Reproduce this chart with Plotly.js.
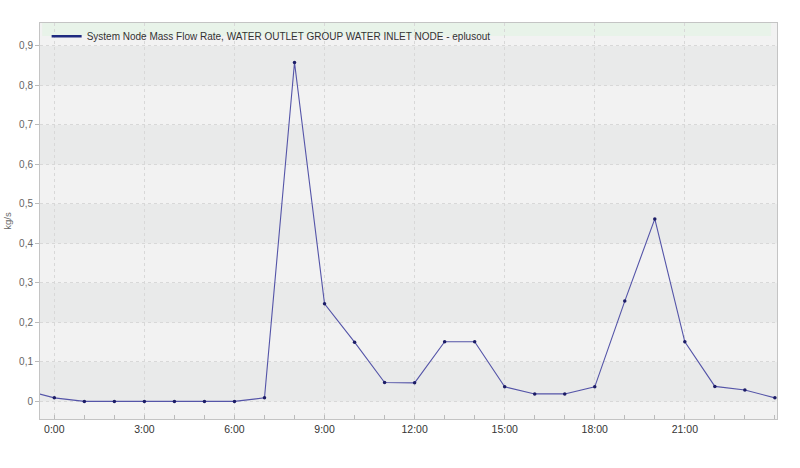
<!DOCTYPE html>
<html>
<head>
<meta charset="utf-8">
<script src="https://cdn.plot.ly/plotly-3.0.1.min.js"></script>
<style>
  html, body { margin: 0; padding: 0; background: #ffffff; }
  #chart { width: 800px; height: 468px; }
</style>
</head>
<body>
<div id="chart"></div>
<script>
// Hours of the day (the -1 point is the previous day's last value, clipped by the axis)
const hours = [-1, 0, 1, 2, 3, 4, 5, 6, 7, 8, 9, 10, 11, 12, 13, 14, 15, 16, 17, 18, 19, 20, 21, 22, 23, 24];
// System Node Mass Flow Rate, kg/s
const massFlow = [0.029, 0.009, 0, 0, 0, 0, 0, 0, 0.009, 0.858, 0.247, 0.150, 0.048, 0.047, 0.151, 0.151,
                  0.037, 0.019, 0.019, 0.037, 0.254, 0.462, 0.151, 0.038, 0.029, 0.009];
const seriesName = 'System Node Mass Flow Rate, WATER OUTLET GROUP WATER INLET NODE - eplusout';
const xTickVals = [0, 3, 6, 9, 12, 15, 18, 21];
const xTickText = ['0:00', '3:00', '6:00', '9:00', '12:00', '15:00', '18:00', '21:00'];
const yTickVals = [0, 0.1, 0.2, 0.3, 0.4, 0.5, 0.6, 0.7, 0.8, 0.9];
const yTickText = ['0', '0,1', '0,2', '0,3', '0,4', '0,5', '0,6', '0,7', '0,8', '0,9'];
const yTitle = 'kg/s';

const yMin = -0.0445, yMax = 0.958;

// alternating background bands between y gridlines
const shapes = [];
for (let i = 0; i < yTickVals.length - 1; i += 2) {
  shapes.push({type: 'rect', xref: 'paper', yref: 'y', x0: 0, x1: 1,
               y0: yTickVals[i], y1: yTickVals[i + 1],
               fillcolor: '#e9eaea', line: {width: 0}, layer: 'below'});
}
// legend strip at top of plot
shapes.push({type: 'rect', xref: 'paper', yref: 'paper', x0: 0.003, x1: 0.992, y0: 0.967, y1: 1,
             fillcolor: '#e8f3e9', line: {width: 0}, layer: 'below'});

const traces = [
  {x: hours, y: massFlow, type: 'scatter', mode: 'lines+markers', showlegend: false,
   line: {color: '#5454a8', width: 1.1},
   marker: {color: '#1c1c66', size: 3.5}},
  {x: [null], y: [null], type: 'scatter', mode: 'lines', name: seriesName,
   line: {color: '#1f2a80', width: 2.5}}
];

const layout = {
  width: 800, height: 468,
  margin: {l: 40, r: 23, t: 23, b: 49, pad: 0},
  paper_bgcolor: '#ffffff',
  plot_bgcolor: '#f2f2f2',
  separators: ', ',
  font: {family: 'Liberation Sans, Arial, sans-serif', size: 10, color: '#555'},
  showlegend: true,
  legend: {x: 0.009, y: 1.003, xanchor: 'left', yanchor: 'top', bgcolor: 'rgba(0,0,0,0)',
           font: {size: 10, color: '#333'}, borderwidth: 0, tracegroupgap: 0,
           itemwidth: 30},
  shapes: shapes,
  xaxis: {
    range: [-0.477, 24.07],
    tickvals: xTickVals, ticktext: xTickText,
    ticks: 'inside', ticklen: 4, tickcolor: '#bbb',
    tickfont: {size: 10.5, color: '#333'},
    showgrid: true, gridcolor: '#d8d8d8', griddash: 'dot', gridwidth: 1,
    minor: {dtick: 1, tick0: 0, ticks: 'inside', ticklen: 4, tickcolor: '#bbb', showgrid: false},
    showline: true, linecolor: '#c4c4c4', linewidth: 1, mirror: true,
    zeroline: false, fixedrange: true
  },
  yaxis: {
    range: [yMin, yMax],
    tickvals: yTickVals, ticktext: yTickText,
    ticks: 'outside', ticklen: 4, tickcolor: '#bbb',
    tickfont: {size: 10, color: '#666'},
    showgrid: true, gridcolor: '#d8d8d8', griddash: 'dot', gridwidth: 1,
    showline: true, linecolor: '#c4c4c4', linewidth: 1, mirror: true,
    zeroline: false,
    title: {text: yTitle, font: {size: 9.5, color: '#666'}, standoff: 5},
    fixedrange: true
  }
};

Plotly.newPlot('chart', traces, layout, {displayModeBar: false, staticPlot: true});
</script>
</body>
</html>
